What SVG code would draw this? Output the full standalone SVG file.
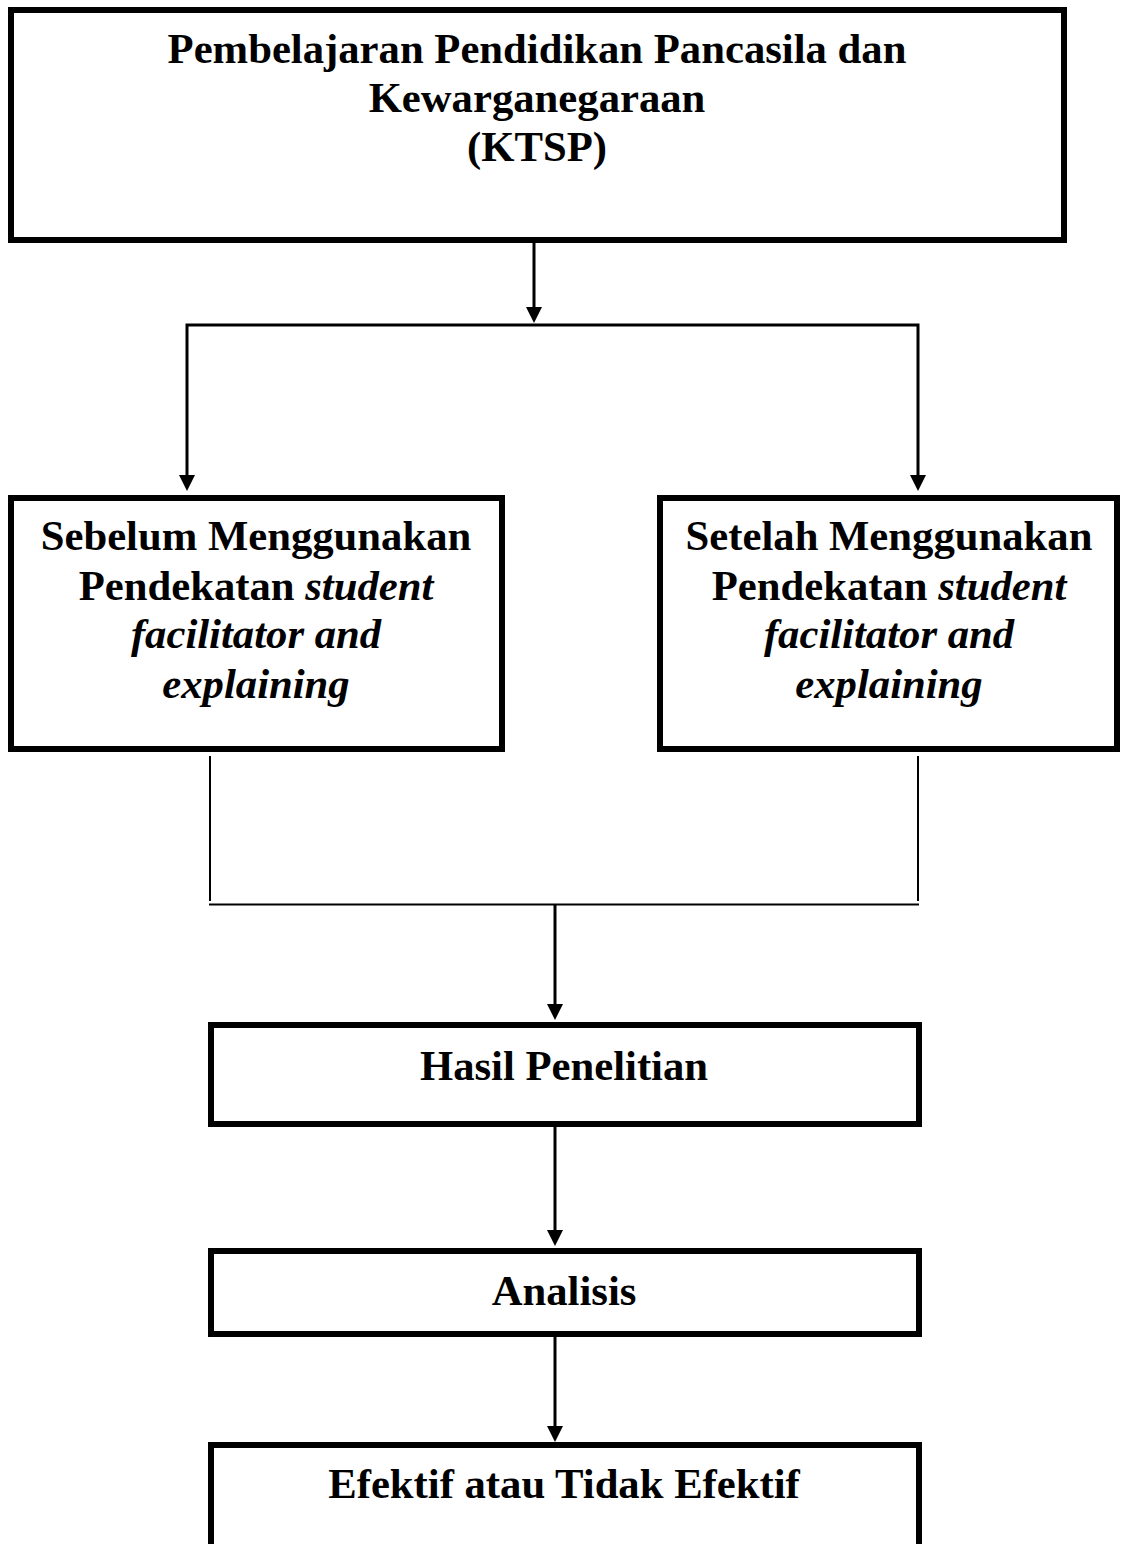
<svg xmlns="http://www.w3.org/2000/svg" width="1121" height="1544" viewBox="0 0 1121 1544">
<style>
.box{fill:#fff;stroke:#000;stroke-width:6}
.t{font-family:"Liberation Serif","Times New Roman",serif;font-weight:bold;font-size:42.7px;fill:#000;text-anchor:middle}
.i{font-style:italic}
.c{stroke:#000;stroke-width:3;fill:none}
.thin{stroke:#000;stroke-width:2;fill:none}
.ah{fill:#000}
</style>
<rect width="1121" height="1544" fill="#fff"/>
<g id="connectors">
<line class="c" x1="534" y1="243" x2="534" y2="308"/>
<polygon class="ah" points="526,307 542,307 534,323"/>
<polyline class="c" points="187,476 187,325 918,325 918,476"/>
<polygon class="ah" points="179,475 195,475 187,491"/>
<polygon class="ah" points="910,475 926,475 918,491"/>
<line class="thin" x1="210" y1="756" x2="210" y2="901"/>
<line class="thin" x1="918" y1="756" x2="918" y2="901"/>
<line class="thin" x1="209" y1="904.5" x2="919" y2="904.5"/>
<line class="c" x1="555" y1="904" x2="555" y2="1005"/>
<polygon class="ah" points="547,1004 563,1004 555,1020"/>
<line class="c" x1="555" y1="1127" x2="555" y2="1231"/>
<polygon class="ah" points="547,1230 563,1230 555,1246"/>
<line class="c" x1="555" y1="1337" x2="555" y2="1427"/>
<polygon class="ah" points="547,1426 563,1426 555,1442"/>
</g>
<g id="node-top">
<rect class="box" x="11" y="10" width="1053" height="230"/>
<text class="t" x="537" y="63">Pembelajaran Pendidikan Pancasila dan</text>
<text class="t" x="537" y="112">Kewarganegaraan</text>
<text class="t" x="537" y="161">(KTSP)</text>
</g>
<g id="node-sebelum">
<rect class="box" x="11" y="498" width="491" height="251"/>
<text class="t" x="256" y="550">Sebelum Menggunakan</text>
<text class="t" x="256" y="600">Pendekatan <tspan class="i">student</tspan></text>
<text class="t i" x="256" y="648">facilitator and</text>
<text class="t i" x="256" y="698">explaining</text>
</g>
<g id="node-setelah">
<rect class="box" x="660" y="498" width="457" height="251"/>
<text class="t" x="889" y="550">Setelah Menggunakan</text>
<text class="t" x="889" y="600">Pendekatan <tspan class="i">student</tspan></text>
<text class="t i" x="889" y="648">facilitator and</text>
<text class="t i" x="889" y="698">explaining</text>
</g>
<g id="node-hasil">
<rect class="box" x="211" y="1025" width="708" height="99"/>
<text class="t" x="564" y="1080">Hasil Penelitian</text>
</g>
<g id="node-analisis">
<rect class="box" x="211" y="1251" width="708" height="83"/>
<text class="t" x="564" y="1305">Analisis</text>
</g>
<g id="node-efektif">
<rect class="box" x="211" y="1445" width="708" height="200"/>
<text class="t" x="564" y="1498">Efektif atau Tidak Efektif</text>
</g>
</svg>
